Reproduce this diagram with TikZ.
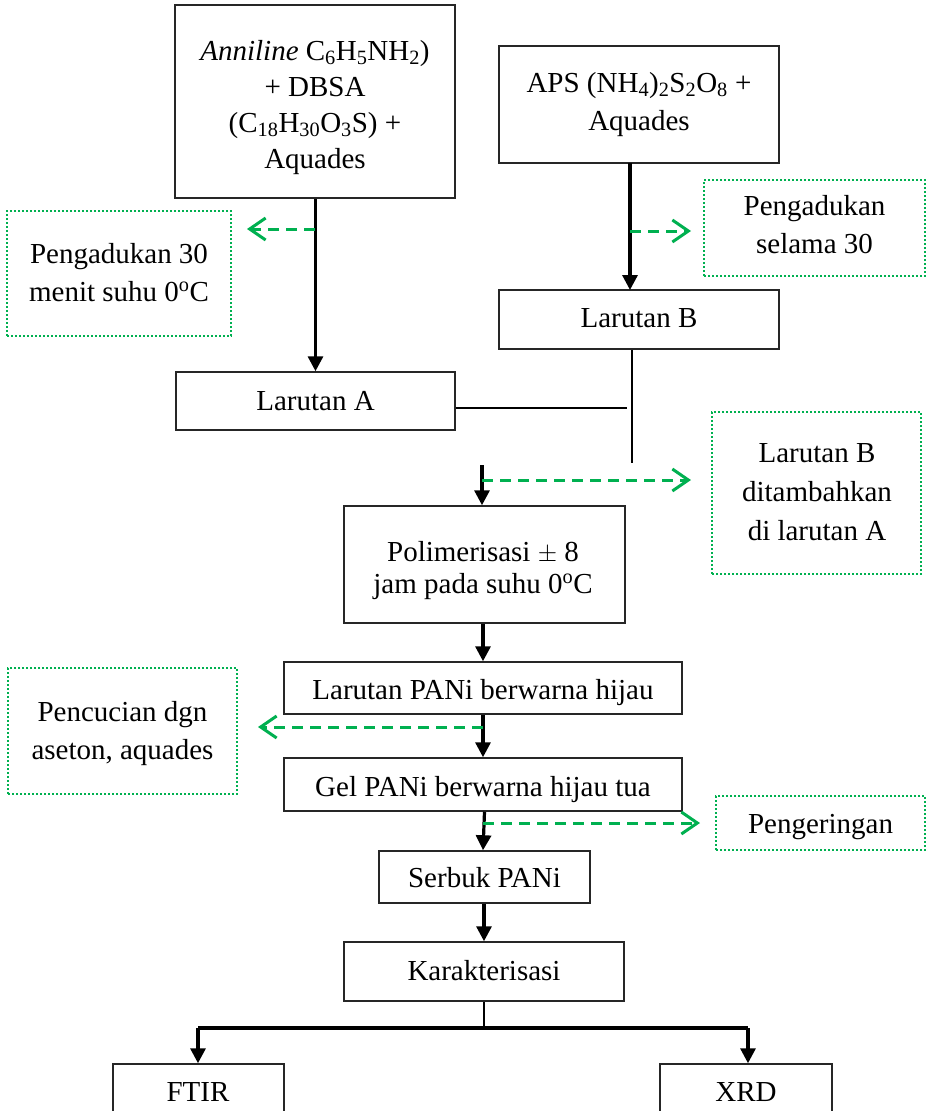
\documentclass[tikz,border=0pt]{standalone}
\usepackage{fontspec}
\setmainfont{Liberation Serif}
\usetikzlibrary{arrows.meta}
\definecolor{grn}{HTML}{00B050}
\begin{document}
\begin{tikzpicture}[x=1pt,y=-1pt,
  box/.style={draw=black!85, line width=1.5pt, inner sep=0pt},
  dbox/.style={draw=grn, line width=1.2pt, dash pattern=on 2pt off 2pt, inner sep=0pt},
  txt/.style={font=\fontsize{29}{38}\selectfont, align=center, anchor=base, inner sep=0pt},
  flow/.style={line width=3.2pt, -{Triangle[length=15pt,width=15pt]}},
  thinline/.style={line width=1.5pt},
  gflow/.style={draw=grn, line width=3pt, dash pattern=on 11pt off 7pt, -{Straight Barb[length=16pt,width=22pt,line width=3pt]}}
]
\useasboundingbox (0,0) rectangle (929,1111);
% boxes
\node[box, minimum width=280pt, minimum height=193pt] (b1) at (315,101.5) {};
\node[txt, font=\fontsize{29}{36}\selectfont] (b1t) at (315,168) {\textit{Anniline} C\textsubscript{6}H\textsubscript{5}NH\textsubscript{2})\\+ DBSA\\(C\textsubscript{18}H\textsubscript{30}O\textsubscript{3}S) +\\Aquades};
\node[box, minimum width=280pt, minimum height=117pt] (b2) at (639,104.5) {};
\node[txt] (b2t) at (639,130) {APS (NH\textsubscript{4})\textsubscript{2}S\textsubscript{2}O\textsubscript{8} +\\Aquades};
\node[box, minimum width=280pt, minimum height=59pt] (lb) at (639,319.5) {};
\node[txt] (lbt) at (639,327) {Larutan B};
\node[box, minimum width=279pt, minimum height=58pt] (la) at (315.5,401) {};
\node[txt] (lat) at (315.5,410) {Larutan A};
\node[dbox, minimum width=224pt, minimum height=125pt] (d1) at (119,273.5) {};
\node[txt] (d1t) at (119,301) {Pengadukan 30\\menit suhu 0\textsuperscript{o}C};
\node[dbox, minimum width=221pt, minimum height=96pt] (d2) at (814.5,228) {};
\node[txt] (d2t) at (814.5,253) {Pengadukan\\selama 30};
\node[dbox, minimum width=209pt, minimum height=162pt] (d3) at (816.5,493) {};
\node[txt, font=\fontsize{29}{39}\selectfont] (d3t) at (817,540) {Larutan B\\ditambahkan\\di larutan A};
\node[box, minimum width=281pt, minimum height=117pt] (pol) at (484.5,564.5) {};
\node[txt, font=\fontsize{29}{32}\selectfont] (polt) at (483,593) {Polimerisasi $\pm$ 8\\jam pada suhu 0\textsuperscript{o}C};
\node[box, minimum width=398pt, minimum height=52pt] (lp) at (483,688) {};
\node[txt] (lpt) at (483,699) {Larutan PANi berwarna hijau};
\node[box, minimum width=398pt, minimum height=53pt] (gel) at (483,784.5) {};
\node[txt] (gelt) at (483,796) {Gel PANi berwarna hijau tua};
\node[dbox, minimum width=229pt, minimum height=126pt] (d4) at (122.5,731) {};
\node[txt] (d4t) at (122.5,759) {Pencucian dgn\\aseton, aquades};
\node[dbox, minimum width=209pt, minimum height=54pt] (d5) at (820.5,823) {};
\node[txt] (d5t) at (820.5,833) {Pengeringan};
\node[box, minimum width=211pt, minimum height=52pt] (sb) at (484.5,877) {};
\node[txt] (sbt) at (484.5,887) {Serbuk PANi};
\node[box, minimum width=280pt, minimum height=59pt] (kr) at (484,971.5) {};
\node[txt] (krt) at (484,980) {Karakterisasi};
\node[box, minimum width=171pt, minimum height=70pt] (ftir) at (198.5,1099) {};
\node[txt] (ftirt) at (198,1101) {FTIR};
\node[box, minimum width=172pt, minimum height=70pt] (xrd) at (746,1099) {};
\node[txt] (xrdt) at (746,1101) {XRD};
% junction coordinates
\coordinate (ja) at (627,408);
\coordinate (jb) at (632,463);
\coordinate (jc) at (482,465);
\coordinate (g1) at (315,229);
\coordinate (g1e) at (247,229);
\coordinate (g2) at (630,231);
\coordinate (g2e) at (691,231);
\coordinate (g3) at (482,480);
\coordinate (g3e) at (691,480);
\coordinate (g4) at (483,727);
\coordinate (g4e) at (258,727);
\coordinate (g5) at (483,823);
\coordinate (g5e) at (700,823);
\coordinate (kb) at (484,1028);
\coordinate (kl) at (198,1028);
\coordinate (kr2) at (748,1028);
% flow arrows
\draw[flow] (b1.south -| la.north) -- (la.north);
\draw[flow] (630,163) -- (630,290);
\draw[thinline] (la.east |- ja) -- (ja);
\draw[thinline] (lb.south -| jb) -- (jb);
\draw[flow] (jc) -- (pol.north -| jc);
\draw[flow] (pol.south -| lp.north) -- (lp.north);
\draw[flow] (lp.south) -- (gel.north);
\draw[flow] (gel.south -| sb.north) -- (sb.north -| gel.south);
\draw[flow] (sb.south -| kr.north) -- (kr.north);
\draw[thinline] (kr.south) -- (kb);
\draw[line width=3.2pt] (kl) -- (kr2);
\draw[flow] (kl) -- (ftir.north -| kl);
\draw[flow] (kr2) -- (xrd.north -| kr2);
% green dashed arrows
\draw[gflow] (g1) -- (g1e);
\draw[gflow] (g2) -- (g2e);
\draw[gflow] (g3) -- (g3e);
\draw[gflow] (g4) -- (g4e);
\draw[gflow] (g5) -- (g5e);
\end{tikzpicture}
\end{document}
